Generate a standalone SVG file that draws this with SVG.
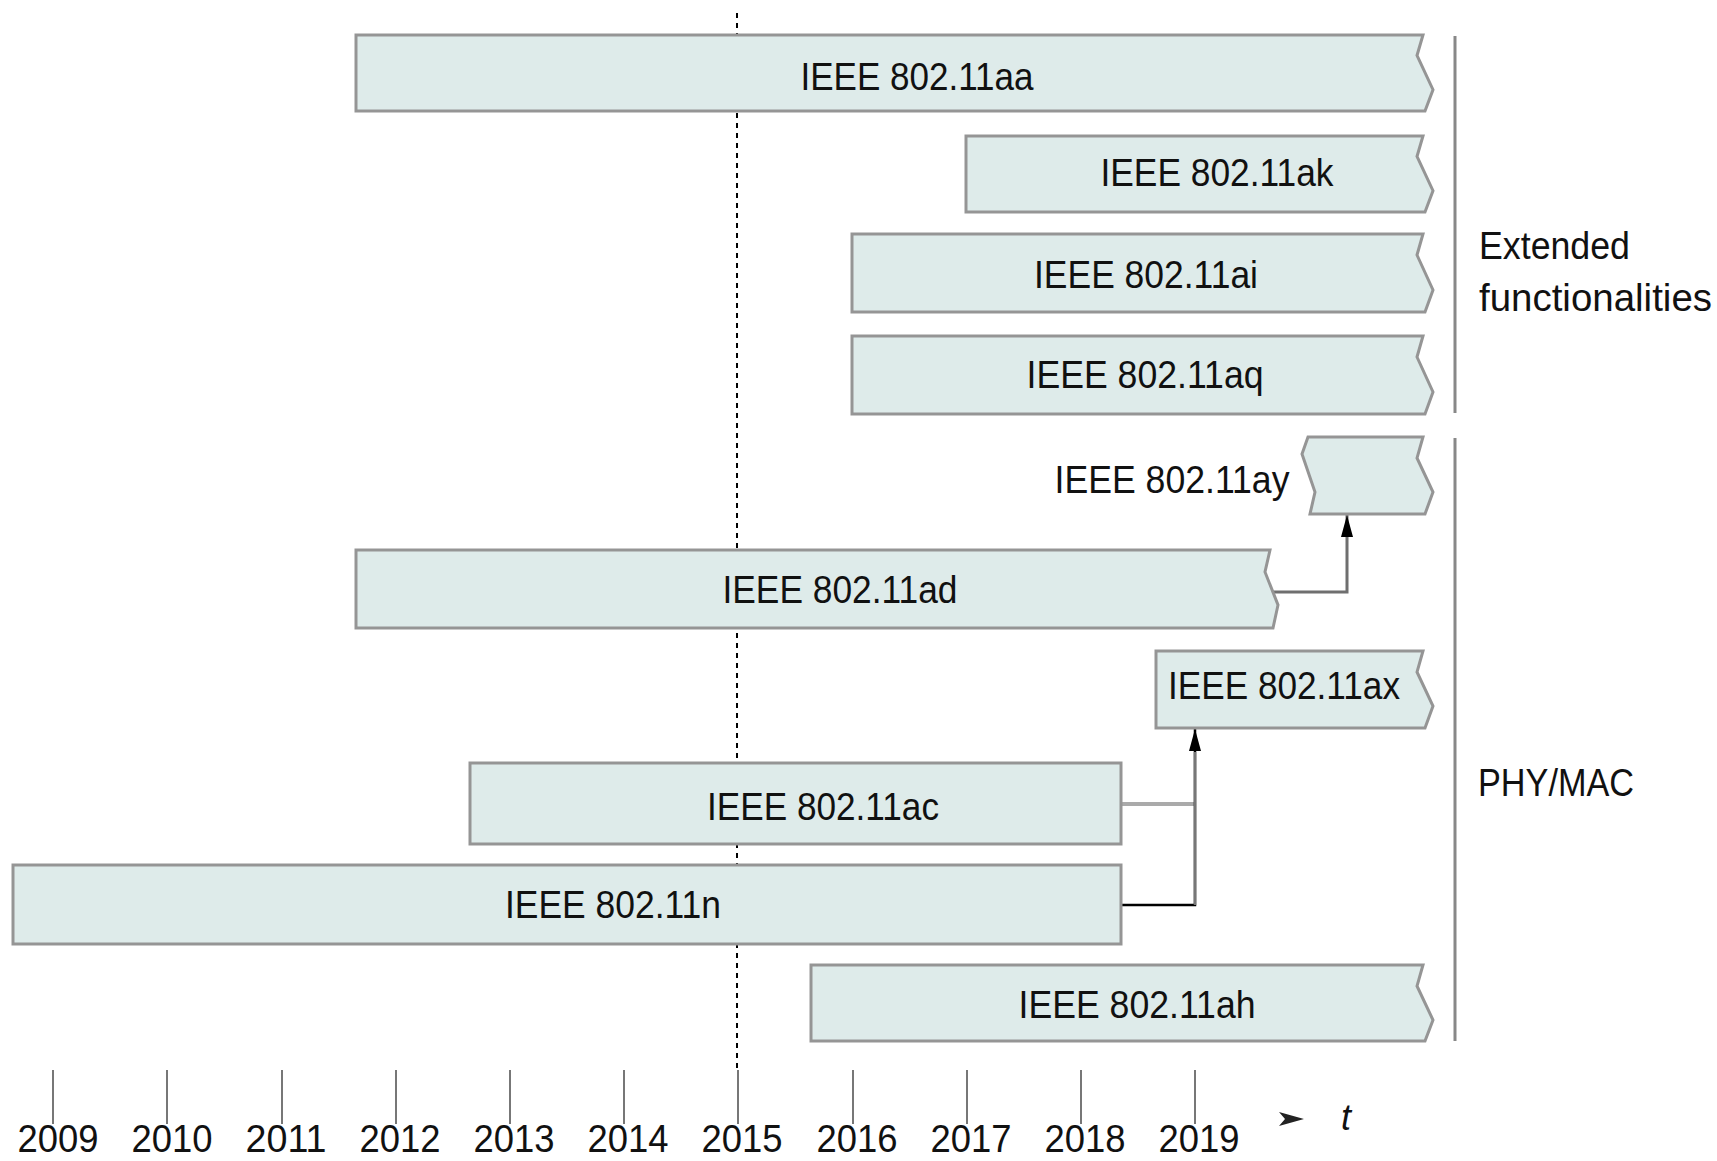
<svg xmlns="http://www.w3.org/2000/svg" width="1717" height="1161" viewBox="0 0 1717 1161">
<style>
.box{fill:#deebea;stroke:#959595;stroke-width:3;stroke-linejoin:miter}
.lbl{font-family:"Liberation Sans",Arial,sans-serif;font-size:38px;fill:#111;text-anchor:middle}
.side{font-family:"Liberation Sans",Arial,sans-serif;font-size:38px;fill:#111}
.yr{font-family:"Liberation Sans",Arial,sans-serif;font-size:38px;fill:#111;text-anchor:middle}
.tick{stroke:#777;stroke-width:2}
.sep{stroke:#888;stroke-width:3}
</style>
<defs>
<marker id="arr" viewBox="0 0 22 12" refX="22" refY="6" markerWidth="22" markerHeight="12" markerUnits="userSpaceOnUse" orient="auto">
<path d="M0,0 L22,6 L0,12 Z" fill="#000"/>
</marker>
</defs>
<rect width="1717" height="1161" fill="#fff"/>

<g id="axis">
<line x1="737" y1="13" x2="737" y2="1068" stroke="#000" stroke-width="2" stroke-dasharray="5,5"/>
<line class="tick" x1="53" y1="1070" x2="53" y2="1124"/>
<line class="tick" x1="167" y1="1070" x2="167" y2="1124"/>
<line class="tick" x1="282" y1="1070" x2="282" y2="1124"/>
<line class="tick" x1="396" y1="1070" x2="396" y2="1124"/>
<line class="tick" x1="510" y1="1070" x2="510" y2="1124"/>
<line class="tick" x1="624" y1="1070" x2="624" y2="1124"/>
<line class="tick" x1="738" y1="1070" x2="738" y2="1124"/>
<line class="tick" x1="853" y1="1070" x2="853" y2="1124"/>
<line class="tick" x1="967" y1="1070" x2="967" y2="1124"/>
<line class="tick" x1="1081" y1="1070" x2="1081" y2="1124"/>
<line class="tick" x1="1195" y1="1070" x2="1195" y2="1124"/>
<text class="yr" x="58" y="1152" textLength="81" lengthAdjust="spacingAndGlyphs">2009</text>
<text class="yr" x="172" y="1152" textLength="81" lengthAdjust="spacingAndGlyphs">2010</text>
<text class="yr" x="286" y="1152" textLength="81" lengthAdjust="spacingAndGlyphs">2011</text>
<text class="yr" x="400" y="1152" textLength="81" lengthAdjust="spacingAndGlyphs">2012</text>
<text class="yr" x="514" y="1152" textLength="81" lengthAdjust="spacingAndGlyphs">2013</text>
<text class="yr" x="628" y="1152" textLength="81" lengthAdjust="spacingAndGlyphs">2014</text>
<text class="yr" x="742" y="1152" textLength="81" lengthAdjust="spacingAndGlyphs">2015</text>
<text class="yr" x="857" y="1152" textLength="81" lengthAdjust="spacingAndGlyphs">2016</text>
<text class="yr" x="971" y="1152" textLength="81" lengthAdjust="spacingAndGlyphs">2017</text>
<text class="yr" x="1085" y="1152" textLength="81" lengthAdjust="spacingAndGlyphs">2018</text>
<text class="yr" x="1199" y="1152" textLength="81" lengthAdjust="spacingAndGlyphs">2019</text>
<path d="M1279,1112 L1304,1119 L1279,1126 L1285,1119 Z" fill="#222"/>
<text x="1341" y="1130" font-family="Liberation Sans,Arial,sans-serif" font-size="36" font-style="italic" fill="#111">t</text>
</g>

<g id="groups">
<line class="sep" x1="1455" y1="36" x2="1455" y2="413"/>
<line class="sep" x1="1455" y1="438" x2="1455" y2="1041"/>
<text class="side" x="1479" y="259" textLength="151" lengthAdjust="spacingAndGlyphs">Extended</text>
<text class="side" x="1479" y="311" textLength="233" lengthAdjust="spacingAndGlyphs">functionalities</text>
<text class="side" x="1478" y="796" textLength="156" lengthAdjust="spacingAndGlyphs">PHY/MAC</text>
</g>

<g id="connectors">
<polyline points="1272,592 1347,592 1347,515" fill="none" stroke="#6f6f6f" stroke-width="3" marker-end="url(#arr)"/>
<line x1="1121" y1="804" x2="1195" y2="804" stroke="#aaa" stroke-width="4"/>
<polyline points="1121,905 1195,905 1195,729" fill="none" stroke="#000" stroke-width="2.5" marker-end="url(#arr)"/>
<line x1="1195" y1="905" x2="1195" y2="752" stroke="#777" stroke-width="2.5"/>
</g>

<g id="n-aa">
<path class="box" d="M356,35 H1423 L1417,55.5 L1433,89.7 L1425,111 H356 Z"/>
<text class="lbl" x="917" y="90" textLength="233" lengthAdjust="spacingAndGlyphs">IEEE 802.11aa</text>
</g>
<g id="n-ak">
<path class="box" d="M966,136 H1423 L1417,156.5 L1433,190.7 L1425,212 H966 Z"/>
<text class="lbl" x="1217" y="186" textLength="233" lengthAdjust="spacingAndGlyphs">IEEE 802.11ak</text>
</g>
<g id="n-ai">
<path class="box" d="M852,234 H1423 L1417,255 L1433,290 L1425,312 H852 Z"/>
<text class="lbl" x="1146" y="288" textLength="224" lengthAdjust="spacingAndGlyphs">IEEE 802.11ai</text>
</g>
<g id="n-aq">
<path class="box" d="M852,336 H1423 L1417,357 L1433,392 L1425,414 H852 Z"/>
<text class="lbl" x="1145" y="388" textLength="237" lengthAdjust="spacingAndGlyphs">IEEE 802.11aq</text>
</g>
<g id="n-ay">
<path class="box" d="M1308,437 H1423 L1417,458 L1433,492 L1425,514 H1310 L1315,492 L1302,454 Z"/>
<text class="lbl" x="1172" y="493" textLength="235" lengthAdjust="spacingAndGlyphs">IEEE 802.11ay</text>
</g>
<g id="n-ad">
<path class="box" d="M356,550 H1270 L1265,572 L1278,605 L1273,628 H356 Z"/>
<text class="lbl" x="840" y="603" textLength="235" lengthAdjust="spacingAndGlyphs">IEEE 802.11ad</text>
</g>
<g id="n-ax">
<path class="box" d="M1156,651 H1423 L1417,672 L1433,706 L1425,728 H1156 Z"/>
<text class="lbl" x="1284" y="699" textLength="232" lengthAdjust="spacingAndGlyphs">IEEE 802.11ax</text>
</g>
<g id="n-ac">
<rect class="box" x="470" y="763" width="651" height="81"/>
<text class="lbl" x="823" y="820" textLength="232" lengthAdjust="spacingAndGlyphs">IEEE 802.11ac</text>
</g>
<g id="n-n">
<rect class="box" x="13" y="865" width="1108" height="79"/>
<text class="lbl" x="613" y="918" textLength="216" lengthAdjust="spacingAndGlyphs">IEEE 802.11n</text>
</g>
<g id="n-ah">
<path class="box" d="M811,965 H1423 L1417,986 L1433,1020 L1425,1041 H811 Z"/>
<text class="lbl" x="1137" y="1018" textLength="237" lengthAdjust="spacingAndGlyphs">IEEE 802.11ah</text>
</g>
</svg>
